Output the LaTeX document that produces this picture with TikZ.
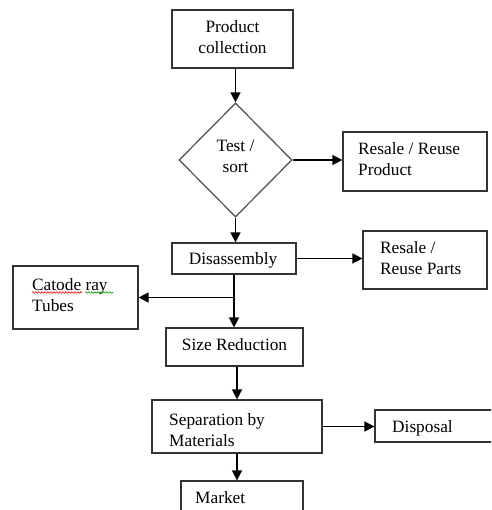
\documentclass[tikz,border=0pt]{standalone}
\usepackage{fontspec}
\setmainfont{Liberation Serif}
\usetikzlibrary{arrows.meta,shapes.geometric,decorations.pathmorphing}
\begin{document}
\begin{tikzpicture}[x=1pt,y=-1pt,
  box/.style={draw=black!80,line width=1.2pt,inner sep=0pt,rectangle},
  dia/.style={draw=black!70,line width=1.2pt,inner sep=0pt,diamond},
  txt/.style={inner sep=0pt,font=\fontsize{17.3}{21}\selectfont,align=left,anchor=west},
  ctxt/.style={inner sep=0pt,font=\fontsize{17.3}{21}\selectfont,align=center},
  arr/.style={line width=1.4pt,-{Triangle[length=10pt,width=10pt]}},
  ln/.style={line width=1.4pt},
  squig/.style={decorate,decoration={snake,amplitude=0.8pt,segment length=3pt},line width=0.6pt}]
\useasboundingbox (0,0) rectangle (491,510);
\clip (0,0) rectangle (491,510);
\fill[white] (0,0) rectangle (491,510);

% boxes
\node[box,minimum width=121pt,minimum height=58pt] (pc) at (232.5,39) {};
\node[dia,minimum width=113pt,minimum height=114pt] (ts) at (235.5,160) {};
\node[box,minimum width=144pt,minimum height=59pt] (rrp) at (415,161.5) {};
\node[box,minimum width=124pt,minimum height=31pt] (dis) at (234,258.5) {};
\node[box,minimum width=124pt,minimum height=58pt] (rpa) at (425,260) {};
\node[box,minimum width=125pt,minimum height=63pt] (cat) at (75.5,297.5) {};
\node[box,minimum width=137pt,minimum height=38pt] (sr) at (234.5,347) {};
\node[box,minimum width=170pt,minimum height=53pt] (sep) at (237,426.5) {};
\node[box,minimum width=125pt,minimum height=32pt] (disp) at (437.5,426) {};
\node[box,minimum width=122pt,minimum height=45pt] (mk) at (242,503.5) {};

% texts
\node[ctxt] (pct) at (232.5,37.5) {Product\\collection};
\node[ctxt] (tst) at (235.5,156.5) {Test /\\sort};
\node[txt] (rrpt) at (358,159.5) {Resale / Reuse\\Product};
\node[ctxt] (dist) at (233,260) {Disassembly};
\node[txt] (rpat) at (380,258.5) {Resale /\\Reuse Parts};
\node[txt] (catt) at (32,295.5) {Catode ray\\Tubes};
\node[ctxt] (srt) at (234.5,345) {Size Reduction};
\node[txt] (sept) at (169,430.5) {Separation by\\Materials};
\node[txt] (dispt) at (392,428) {Disposal};
\node[txt] (mkt) at (195,498) {Market};

% spell-check squiggles
\draw[squig,red] (32,292.5) -- (82,292.5);
\draw[squig,green!60!black] (85,292.5) -- (113,292.5);

% connectors
\draw[arr] (ts.north |- pc.south) -- (ts.north);
\draw[arr] (ts.east) -- (rrp.west |- ts.east);
\draw[arr] (ts.south) -- (ts.south |- dis.north);
\draw[arr] (dis.east) -- (rpa.west |- dis.east);
\coordinate (br) at (dis.south |- cat.east);
\draw[ln] (dis.south) -- (br);
\draw[arr] (br) -- (cat.east);
\draw[arr] (br) -- (br |- sr.north);
\draw[arr] (sep.north |- sr.south) -- (sep.north);
\draw[arr] (sep.east) -- (disp.west |- sep.east);
\draw[arr] (sep.south) -- (sep.south |- mk.north);
\end{tikzpicture}
\end{document}
